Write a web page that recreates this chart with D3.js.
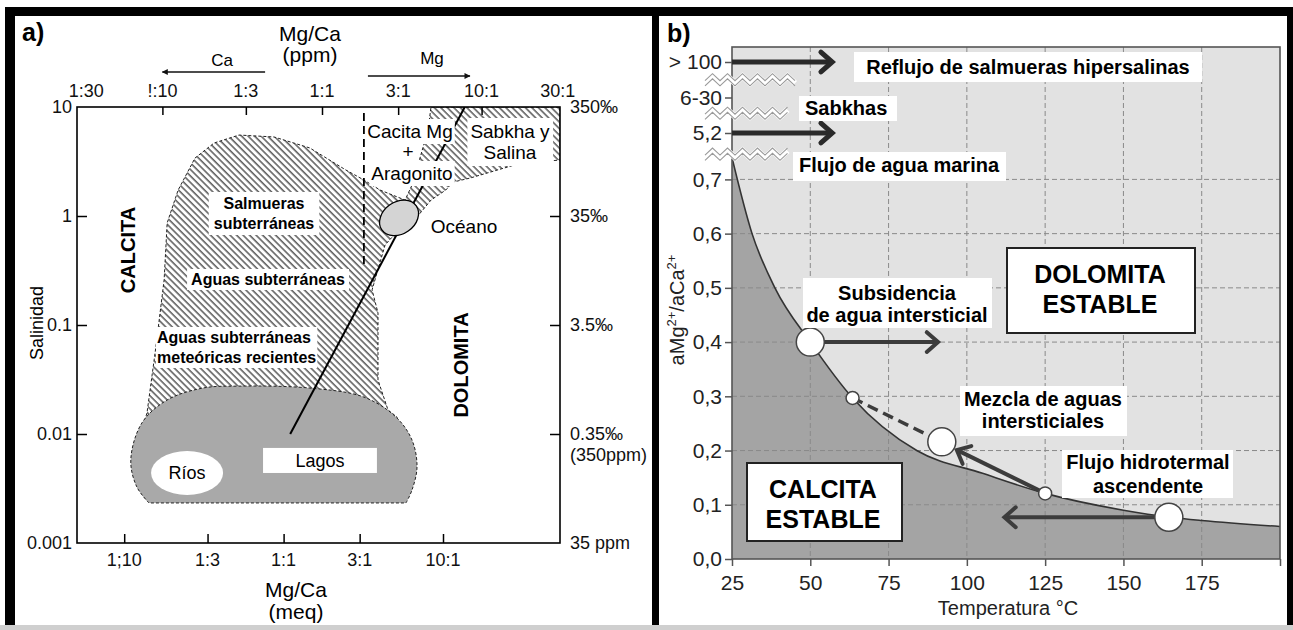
<!DOCTYPE html>
<html><head><meta charset="utf-8">
<script src="https://cdn.jsdelivr.net/npm/d3@7"></script>
<style>
html,body{margin:0;padding:0;background:#fff;}
svg{display:block;font-family:"Liberation Sans",Arial,Helvetica,sans-serif;}
</style></head><body>
<svg id="c" width="1293" height="630"></svg>
<script>
// ================= DATA: panel a =================
const ppmTicks = [0.1, 1/3, 1, 3, 10];
const ppmLabelValues = [1/30, 0.1, 1/3, 1, 3, 10, 30];
const ppmLabels = ["1:30", "!:10", "1:3", "1:1", "3:1", "10:1", "30:1"];
const meqTicks = [0.1, 1/3, 1, 3, 10];
const meqLabels = ["1;10", "1:3", "1:1", "3:1", "10:1"];
const salValues = [10, 1, 0.1, 0.01, 0.001];
const salLeftLabels = ["10", "1", "0.1", "0.01", "0.001"];
const salRightLabels = [["350‰"], ["35‰"], ["3.5‰"], ["0.35‰", "(350ppm)"], ["35 ppm"]];
const salInnerTicks = [1, 0.1, 0.01];
// hatched field of natural waters, [Mg/Ca meq, salinity]
const hatchRegion = [[8.41,10],[54.2,10],[54.2,3.26],[30.9,3.06],[14.8,2.23],[11.6,2.05],[10.4,1.73],[8.41,1.40],[6.87,0.98],[5.61,0.827],[4.33,0.542],[3.59,0.210],[3.91,0.129],[3.91,0.0313],[4.52,0.0166],[5.15,0.0143],[5.15,0.005],[0.133,0.005],[0.133,0.0126],[0.139,0.0156],[0.158,0.0628],[0.178,0.259],[0.186,0.863],[0.218,1.73],[0.278,3.40],[0.366,4.67],[0.525,5.53],[0.871,5.31],[1.46,4.21],[2.46,2.64],[3.19,2.14],[4.03,1.73],[5.78,1.40],[6.39,1.92],[7.17,3.40],[8.05,6.15]];
// grey field of continental surface waters
const lakeBlob = [[0.143,0.00233],[0.120,0.00327],[0.110,0.00577],[0.129,0.0126],[0.186,0.0205],[0.312,0.0264],[0.525,0.0275],[1.46,0.0264],[3.19,0.0218],[5.07,0.0143],[6.39,0.00881],[6.87,0.00498],[6.39,0.00306],[5.86,0.00233]];
const oceanCenter = [5.3, 0.96];
const riosCenter = [0.248, 0.00439];
const lagosCorners = [[0.743, 0.00745], [3.85, 0.00439]];
const trendLine = [[1.10, 0.0100], [13.7, 10]];
const calciteLimit = [[3.19, 8.8], [3.19, 0.34]];
const caArrow = [0.44, 0.1];   // ppm scale
const mgArrow = [1.94, 8.45];  // ppm scale

// ================= DATA: panel b =================
const tempTicks = [25, 50, 75, 100, 125, 150, 175, 200];
const ratioTicks = [0, 0.1, 0.2, 0.3, 0.4, 0.5, 0.6, 0.7];
const upperLabels = ["5,2", "6-30", "> 100"];
const curveT = [25, 31.4, 38.7, 50, 63.5, 84, 105, 125, 150, 165, 175, 200];
const curveR = [0.74, 0.6, 0.5, 0.4, 0.297, 0.2, 0.158, 0.121, 0.09, 0.077, 0.071, 0.06];
const circleT = [50, 63.5, 92, 125, 164.5];
const circleR = [0.40, 0.297, 0.216, 0.121, 0.077];
const circleKind = ["big", "small", "big", "small", "big"];
const arrowFrom = [[50, 0.4], [125, 0.121], [164.5, 0.077]];
const arrowTo = [[90.8, 0.4], [96.8, 0.201], [112, 0.077]];
const mixDash = [[63.5, 0.297], [92, 0.216]];
const topArrowCats = ["> 100", "5,2"];
const topArrowT = [25, 57];

// ================= DRAW =================
const svg = d3.select("#c");
svg.append("rect").attr("width", 1293).attr("height", 630).attr("fill", "#fff");
const defs = svg.append("defs");
defs.append("pattern").attr("id", "hatch").attr("patternUnits", "userSpaceOnUse")
  .attr("width", 4.6).attr("height", 4.6).attr("patternTransform", "rotate(-45)")
  .append("line").attr("x1", 1).attr("y1", 0).attr("x2", 1).attr("y2", 4.6)
  .attr("stroke", "#1a1a1a").attr("stroke-width", 1.1);

function labelBox(g, lines, x, y0, lh, o) {
  const t = g.append("text").attr("text-anchor", o.anchor || "middle")
    .attr("font-size", o.size).attr("font-weight", o.weight || "bold").attr("fill", "#000");
  lines.forEach((s, i) => t.append("tspan").attr("x", x).attr("y", y0 + i * lh).text(s));
  if (o.bg) {
    let r;
    if (o.rect) r = {x: o.rect[0], y: o.rect[1], width: o.rect[2], height: o.rect[3]};
    else { const b = t.node().getBBox(); r = {x: b.x - o.px, y: b.y - o.py, width: b.width + 2 * o.px, height: b.height + 2 * o.py}; }
    g.insert("rect", () => t.node()).attr("x", r.x).attr("y", r.y).attr("width", r.width).attr("height", r.height)
      .attr("fill", "#fff").attr("stroke", o.stroke || "none").attr("stroke-width", o.sw || 0);
  }
  return t;
}

// ---------- Panel a ----------
const A = {left: 77, right: 560, top: 107, bottom: 543};
const xMeq = d3.scaleLog().domain([0.1, 10]).range([124.2, 443]);
const xPpm = d3.scaleLog().domain([0.1, 10]).range([162.4, 481.6]);
const ySal = d3.scaleLog().domain([0.001, 10]).range([A.bottom, A.top]);
defs.append("clipPath").attr("id", "clipA").append("rect")
  .attr("x", A.left).attr("y", A.top).attr("width", A.right - A.left).attr("height", A.bottom - A.top);
const ga = svg.append("g");
const gp = ga.append("g").attr("clip-path", "url(#clipA)");
const lin = d3.line().x(d => xMeq(d[0])).y(d => ySal(d[1]));
gp.append("path").attr("d", lin(hatchRegion) + "Z").attr("fill", "url(#hatch)")
  .attr("stroke", "#222").attr("stroke-width", 1).attr("stroke-dasharray", "3,2");
const blobLine = d3.line().x(d => xMeq(d[0])).y(d => ySal(d[1])).curve(d3.curveCatmullRom.alpha(0.5));
gp.append("path").attr("d", blobLine(lakeBlob) + "Z").attr("fill", "#a9a9a9")
  .attr("stroke", "#222").attr("stroke-width", 1).attr("stroke-dasharray", "3,2");
gp.append("ellipse").attr("cx", xMeq(riosCenter[0])).attr("cy", ySal(riosCenter[1]))
  .attr("rx", 36).attr("ry", 22).attr("fill", "#fff");
gp.append("rect").attr("x", xMeq(lagosCorners[0][0])).attr("y", ySal(lagosCorners[0][1]))
  .attr("width", xMeq(lagosCorners[1][0]) - xMeq(lagosCorners[0][0]))
  .attr("height", ySal(lagosCorners[1][1]) - ySal(lagosCorners[0][1])).attr("fill", "#fff");
// trend line (over the lake field, under ocean & labels)
gp.append("path").attr("d", lin(trendLine)).attr("stroke", "#000").attr("stroke-width", 2).attr("fill", "none");
gp.append("ellipse").attr("cx", 0).attr("cy", 0).attr("rx", 21).attr("ry", 16)
  .attr("transform", `translate(${xMeq(oceanCenter[0])},${ySal(oceanCenter[1])}) rotate(-35)`)
  .attr("fill", "#d4d4d4").attr("stroke", "#000").attr("stroke-width", 1.3);
gp.append("path").attr("d", lin(calciteLimit)).attr("stroke", "#000").attr("stroke-width", 1.8)
  .attr("stroke-dasharray", "8,5").attr("fill", "none");

// labels in panel a
labelBox(ga, ["Salmueras", "subterráneas"], 264, 209, 20, {size: 16, bg: true, px: 5, py: 3});
labelBox(ga, ["Aguas subterráneas"], 268, 285, 20, {size: 16, bg: true, px: 4, py: 2});
labelBox(ga, ["Aguas subterráneas", "meteóricas recientes"], 157, 343, 20, {size: 16, anchor: "start", bg: true, px: 1, py: 2});
labelBox(ga, ["Cacita Mg"], 410, 138, 20, {size: 19, weight: "normal", bg: true, px: 2, py: 2});
labelBox(ga, ["+"], 408, 158, 20, {size: 19, weight: "normal", bg: true, px: 2, py: 0});
labelBox(ga, ["Aragonito"], 412, 180, 20, {size: 19, weight: "normal", bg: true, px: 2, py: 2});
labelBox(ga, ["Sabkha y", "Salina"], 510, 138, 21, {size: 19, weight: "normal", bg: true, px: 3, py: 3});
labelBox(ga, ["Océano"], 464, 233, 20, {size: 19, weight: "normal"});
labelBox(ga, ["Ríos"], xMeq(riosCenter[0]), ySal(riosCenter[1]) + 6, 20, {size: 18, weight: "normal"});
labelBox(ga, ["Lagos"], (xMeq(lagosCorners[0][0]) + xMeq(lagosCorners[1][0])) / 2, 467, 20, {size: 18, weight: "normal"});
ga.append("text").attr("transform", "translate(128,250) rotate(-90)").attr("text-anchor", "middle")
  .attr("dy", "0.36em").attr("font-size", 20).attr("font-weight", "bold").text("CALCITA");
ga.append("text").attr("transform", "translate(461,365) rotate(-90)").attr("text-anchor", "middle")
  .attr("dy", "0.36em").attr("font-size", 20).attr("font-weight", "bold").text("DOLOMITA");

// box + ticks
ga.append("rect").attr("x", A.left).attr("y", A.top).attr("width", A.right - A.left).attr("height", A.bottom - A.top)
  .attr("fill", "none").attr("stroke", "#000").attr("stroke-width", 1.6);
const tickStyle = g => { g.select(".domain").remove(); g.selectAll("line").attr("stroke", "#000").attr("stroke-width", 1.5); g.selectAll("text").remove(); };
ga.append("g").attr("transform", `translate(0,${A.top})`)
  .call(d3.axisTop(xPpm).tickValues(ppmTicks).tickSize(-8).tickSizeOuter(0)).call(tickStyle);
ga.append("g").attr("transform", `translate(0,${A.bottom})`)
  .call(d3.axisBottom(xMeq).tickValues(meqTicks).tickSize(-9).tickSizeOuter(0)).call(tickStyle);
ga.append("g").attr("transform", `translate(${A.left},0)`)
  .call(d3.axisLeft(ySal).tickValues(salInnerTicks).tickSize(-10).tickSizeOuter(0)).call(tickStyle);
ga.append("g").attr("transform", `translate(${A.right},0)`)
  .call(d3.axisRight(ySal).tickValues(salInnerTicks).tickSize(-10).tickSizeOuter(0)).call(tickStyle);

// tick labels
ga.append("g").selectAll("text").data(ppmLabelValues).join("text")
  .attr("x", d => xPpm(d)).attr("y", 97).attr("text-anchor", "middle").attr("font-size", 18).attr("fill", "#111")
  .text((d, i) => ppmLabels[i]);
ga.append("g").selectAll("text").data(meqTicks).join("text")
  .attr("x", d => xMeq(d)).attr("y", 566).attr("text-anchor", "middle").attr("font-size", 18).attr("fill", "#111")
  .text((d, i) => meqLabels[i]);
ga.append("g").selectAll("text").data(salValues).join("text")
  .attr("x", 72).attr("y", d => ySal(d)).attr("dy", "0.35em").attr("text-anchor", "end").attr("font-size", 18).attr("fill", "#111")
  .text((d, i) => salLeftLabels[i]);
const rl = ga.append("g").selectAll("text").data(salValues).join("text")
  .attr("x", 570).attr("y", d => ySal(d)).attr("font-size", 18).attr("fill", "#111");
rl.each(function(d, i) {
  const t = d3.select(this);
  salRightLabels[i].forEach((s, j) => t.append("tspan").attr("x", 570).attr("dy", j === 0 ? "0.35em" : "1.15em").text(s));
});

// titles of panel a
ga.append("text").attr("x", 22).attr("y", 41).attr("font-size", 25).attr("font-weight", "bold").text("a)");
labelBox(ga, ["Mg/Ca", "(ppm)"], 310, 41, 21, {size: 21, weight: "normal"});
labelBox(ga, ["Mg/Ca", "(meq)"], 296, 597, 22, {size: 21, weight: "normal"});
ga.append("text").attr("transform", "translate(37,323) rotate(-90)").attr("text-anchor", "middle")
  .attr("dy", "0.35em").attr("font-size", 18).text("Salinidad");
labelBox(ga, ["Ca"], 222, 66, 20, {size: 17, weight: "normal"});
labelBox(ga, ["Mg"], 432, 64, 20, {size: 17, weight: "normal"});
defs.append("marker").attr("id", "tri").attr("viewBox", "0 0 10 10").attr("refX", 9).attr("refY", 5)
  .attr("markerWidth", 9).attr("markerHeight", 6).attr("markerUnits", "userSpaceOnUse").attr("orient", "auto")
  .append("path").attr("d", "M0,0 L10,5 L0,10 Z").attr("fill", "#111");
ga.append("line").attr("x1", xPpm(caArrow[0])).attr("x2", xPpm(caArrow[1])).attr("y1", 72).attr("y2", 72)
  .attr("stroke", "#111").attr("stroke-width", 1.4).attr("marker-end", "url(#tri)");
ga.append("line").attr("x1", xPpm(mgArrow[0])).attr("x2", xPpm(mgArrow[1])).attr("y1", 76).attr("y2", 76)
  .attr("stroke", "#111").attr("stroke-width", 1.4).attr("marker-end", "url(#tri)");

// ---------- Panel b ----------
const B = {left: 732, right: 1280, top: 47, bottom: 559};
const xT = d3.scaleLinear().domain([25, 200]).range([B.left, B.right]);
const yR = d3.scaleLinear().domain([0, 0.7]).range([B.bottom, 179.4]);
const yU = d3.scalePoint().domain(upperLabels).range([133, 62]);
const comma = d3.formatLocale({decimal: ",", thousands: ".", grouping: [3], currency: ["", ""]}).format(".1f");
const gb = svg.append("g");
defs.append("clipPath").attr("id", "clipB").append("rect")
  .attr("x", B.left).attr("y", B.top).attr("width", B.right - B.left).attr("height", B.bottom - B.top);
gb.append("rect").attr("x", B.left).attr("y", B.top).attr("width", B.right - B.left).attr("height", B.bottom - B.top)
  .attr("fill", "#e2e2e2");
const gbp = gb.append("g").attr("clip-path", "url(#clipB)");
const curveData = curveT.map((t, i) => [t, curveR[i]]);
gbp.append("path").datum(curveData)
  .attr("d", d3.area().x(d => xT(d[0])).y0(yR(0)).y1(d => yR(d[1])).curve(d3.curveMonotoneX))
  .attr("fill", "#a4a4a4");
// grid
gbp.append("g").selectAll("line").data(tempTicks.slice(1, -1)).join("line")
  .attr("x1", d => xT(d)).attr("x2", d => xT(d)).attr("y1", B.top).attr("y2", B.bottom)
  .attr("stroke", "#8a8a8a").attr("stroke-width", 1).attr("stroke-dasharray", "5,3");
gbp.append("g").selectAll("line").data(ratioTicks.slice(1)).join("line")
  .attr("x1", B.left).attr("x2", B.right).attr("y1", d => yR(d)).attr("y2", d => yR(d))
  .attr("stroke", "#8a8a8a").attr("stroke-width", 1).attr("stroke-dasharray", "5,3");
gbp.append("path").datum(curveData)
  .attr("d", d3.line().x(d => xT(d[0])).y(d => yR(d[1])).curve(d3.curveMonotoneX))
  .attr("fill", "none").attr("stroke", "#333").attr("stroke-width", 1.6);
// frame
gb.append("rect").attr("x", B.left).attr("y", B.top).attr("width", B.right - B.left).attr("height", B.bottom - B.top)
  .attr("fill", "none").attr("stroke", "#555").attr("stroke-width", 1.6);

// axes
const axStyle = g => { g.select(".domain").remove(); g.selectAll("line").attr("stroke", "#555").attr("stroke-width", 1.5);
  g.selectAll("text").attr("font-size", 21).attr("fill", "#222").attr("font-family", '"Liberation Sans",Arial,sans-serif'); };
gb.append("g").attr("transform", `translate(0,${B.bottom})`)
  .call(d3.axisBottom(xT).tickValues(tempTicks).tickSize(7).tickPadding(9).tickFormat(d => d === 200 ? "" : d)).call(axStyle);
gb.append("g").attr("transform", `translate(${B.left},0)`)
  .call(d3.axisLeft(yR).tickValues(ratioTicks).tickSize(7).tickPadding(3).tickFormat(comma)).call(axStyle);
gb.append("g").attr("transform", `translate(${B.left},0)`)
  .call(d3.axisLeft(yU).tickSize(7).tickPadding(3)).call(axStyle);

// arrows
function chevron(g, p0, p1, w, L, col) {
  const dx = p1[0] - p0[0], dy = p1[1] - p0[1], n = Math.hypot(dx, dy), ux = dx / n, uy = dy / n;
  const a = 0.72, c = Math.cos(a), s = Math.sin(a);
  const w1 = [p1[0] - L * (ux * c - uy * s), p1[1] - L * (uy * c + ux * s)];
  const w2 = [p1[0] - L * (ux * c + uy * s), p1[1] - L * (uy * c - ux * s)];
  g.append("line").attr("x1", p0[0]).attr("y1", p0[1]).attr("x2", p1[0] - ux * 1.5).attr("y2", p1[1] - uy * 1.5)
    .attr("stroke", col).attr("stroke-width", w);
  g.append("path").attr("d", `M${w1}L${p1}L${w2}`).attr("fill", "none").attr("stroke", col)
    .attr("stroke-width", w).attr("stroke-linejoin", "miter").attr("stroke-linecap", "round");
}
arrowFrom.forEach((f, i) => chevron(gb, [xT(f[0]), yR(f[1])], [xT(arrowTo[i][0]), yR(arrowTo[i][1])], 4, 15, "#3c3c3c"));
gb.append("path").attr("d", d3.line().x(d => xT(d[0])).y(d => yR(d[1]))(mixDash))
  .attr("stroke", "#3c3c3c").attr("stroke-width", 3.5).attr("stroke-dasharray", "11,6").attr("fill", "none");
topArrowCats.forEach(c => chevron(gb, [xT(topArrowT[0]), yU(c)], [xT(topArrowT[1]), yU(c)], 5, 15, "#2a2a2a"));
// circles
gb.append("g").selectAll("circle").data(circleT).join("circle")
  .attr("cx", d => xT(d)).attr("cy", (d, i) => yR(circleR[i]))
  .attr("r", (d, i) => circleKind[i] === "big" ? 14 : 6.5)
  .attr("fill", "#fff").attr("stroke", "#444").attr("stroke-width", 1.5);

// axis breaks
const breaksY = [(yR(0.7) + yU("5,2")) / 2 - 2, (yU("5,2") + yU("6-30")) / 2 - 2, (yU("6-30") + yU("> 100")) / 2];
const breakLen = [85, 85, 92];
breaksY.forEach((yc, k) => {
  const pts = d3.range(0, Math.floor(breakLen[k] / 7.5) + 1).map(i => [705 + i * 7.5, yc + (i % 2 ? -3.5 : 3.5)]);
  const zl = d3.line();
  gb.append("path").attr("d", zl(pts)).attr("fill", "none").attr("stroke", "#fff").attr("stroke-width", 6);
  [-2.6, 2.6].forEach(off => gb.append("path").attr("d", zl(pts.map(p => [p[0], p[1] + off])))
    .attr("fill", "none").attr("stroke", "#9a9a9a").attr("stroke-width", 1.1));
});

// labels panel b
labelBox(gb, ["Reflujo de salmueras hipersalinas"], 1028, 74, 22, {size: 20, bg: true, rect: [854, 52, 348, 30]});
labelBox(gb, ["Sabkhas"], 805, 115, 22, {size: 20, anchor: "start", bg: true, rect: [799, 96, 98, 25]});
labelBox(gb, ["Flujo de agua marina"], 799, 172, 22, {size: 20, anchor: "start", bg: true, rect: [793, 152, 213, 29]});
labelBox(gb, ["Subsidencia", "de agua intersticial"], 897, 300, 22, {size: 20, bg: true, rect: [803, 278, 189, 50]});
labelBox(gb, ["Mezcla de aguas", "intersticiales"], 1043, 406, 22, {size: 20, bg: true, rect: [960, 386, 167, 50]});
labelBox(gb, ["Flujo hidrotermal", "ascendente"], 1148, 469, 24, {size: 20, bg: true, rect: [1062, 450, 171, 48]});
labelBox(gb, ["DOLOMITA", "ESTABLE"], 1100, 283, 30, {size: 25, bg: true, rect: [1007, 248, 188, 85], stroke: "#222", sw: 2});
labelBox(gb, ["CALCITA", "ESTABLE"], 823, 498, 30, {size: 25, bg: true, rect: [747, 463, 155, 78], stroke: "#222", sw: 2});

gb.append("text").attr("x", 667).attr("y", 42).attr("font-size", 25).attr("font-weight", "bold").text("b)");
gb.append("text").attr("x", (B.left + B.right) / 2 + 2).attr("y", 615).attr("text-anchor", "middle")
  .attr("font-size", 20).attr("fill", "#222").text("Temperatura °C");
const yt = gb.append("text").attr("transform", "translate(684,310) rotate(-90)").attr("text-anchor", "middle")
  .attr("font-size", 20).attr("fill", "#222");
yt.append("tspan").text("aMg");
yt.append("tspan").attr("font-size", 13).attr("dy", -8).text("2+");
yt.append("tspan").attr("dy", 8).text("/aCa");
yt.append("tspan").attr("font-size", 13).attr("dy", -8).text("2+");

// ---------- outer frame ----------
svg.append("rect").attr("x", 5).attr("y", 7).attr("width", 1288).attr("height", 9).attr("fill", "#000");
svg.append("rect").attr("x", 5).attr("y", 7).attr("width", 10).attr("height", 618).attr("fill", "#000");
svg.append("rect").attr("x", 652).attr("y", 7).attr("width", 7).attr("height", 618).attr("fill", "#000");
svg.append("rect").attr("x", 1287).attr("y", 7).attr("width", 6).attr("height", 618).attr("fill", "#000");
svg.append("rect").attr("x", 0).attr("y", 625).attr("width", 1293).attr("height", 5).attr("fill", "#cfcfcf");
</script>
</body></html>
